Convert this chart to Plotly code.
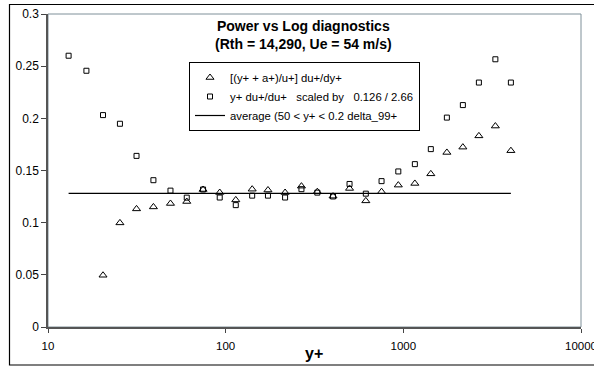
import plotly.graph_objects as go

# ---- data ----
yplus = [13.06, 16.45, 20.4, 25.4, 31.5, 39.2, 48.9, 60.4, 74.6, 92.6, 114, 141,
         173, 216, 267, 328, 402, 498, 615, 754, 937, 1161, 1428, 1758, 2163,
         2662, 3296, 4030]

# y+ du+/du+ scaled (squares)
scaled = [0.260, 0.2456, 0.2031, 0.1948, 0.164, 0.1407, 0.1307, 0.124, 0.1318,
          0.1241, 0.1168, 0.1259, 0.1259, 0.1241, 0.1321, 0.1288, 0.1251, 0.1371,
          0.1278, 0.1398, 0.1491, 0.1561, 0.1705, 0.2007, 0.2127, 0.2343, 0.2566,
          0.2343]

# [(y+ + a+)/u+] du+/dy+ (triangles), starts at third y+ value
tri_x = yplus[2:]
tri_y = [0.0496, 0.0998, 0.1132, 0.1151, 0.1184, 0.1203, 0.1318, 0.1289, 0.1218,
         0.1321, 0.1313, 0.1289, 0.135, 0.1297, 0.1254, 0.1328, 0.1209, 0.1297,
         0.136, 0.1376, 0.1468, 0.1673, 0.1724, 0.1832, 0.1926, 0.169]

avg_x = [yplus[0], yplus[-1]]
avg_y = [0.128, 0.128]

x_tickvals = [10, 100, 1000, 10000]
x_ticktext = ["10", "100", "1000", "10000"]

names = ["[(y+ + a+)/u+] du+/dy+",
         "y+ du+/du+   scaled by   0.126 / 2.66",
         "average (50 < y+ < 0.2 delta_99+"]

FONT = "Arial, Liberation Sans, sans-serif"

fig = go.Figure()
fig.add_trace(go.Scatter(
    x=tri_x, y=tri_y, mode="markers", name=names[0],
    marker=dict(symbol="triangle-up-open", size=7, color="black", line=dict(width=1, color="black"))))
fig.add_trace(go.Scatter(
    x=yplus, y=scaled, mode="markers", name=names[1],
    marker=dict(symbol="square-open", size=5, color="black", line=dict(width=1, color="black"))))
fig.add_trace(go.Scatter(
    x=avg_x, y=avg_y, mode="lines", name=names[2],
    line=dict(color="black", width=1.2)))

W, H = 594, 367
L, R, T, B = 48, 13, 14, 40
pw, ph = W - L - R, H - T - B

def px(xp):
    return (xp - L) / pw

def py(yp):
    return (H - B - yp) / ph

fig.update_layout(
    width=W, height=H,
    margin=dict(l=L, r=R, t=T, b=B, autoexpand=False),
    paper_bgcolor="white", plot_bgcolor="white",
    font=dict(family=FONT, size=11, color="black"),
    showlegend=True,
    legend=dict(
        x=px(189), y=py(62), xanchor="left", yanchor="top",
        bgcolor="white", bordercolor="black", borderwidth=1,
        font=dict(family=FONT, size=11.3, color="black"),
        tracegroupgap=0,
    ),
    xaxis=dict(
        type="log", range=[1, 4], automargin=False,
        tickvals=x_tickvals, ticktext=x_ticktext,
        ticks="outside", ticklen=4, tickcolor="#444", tickwidth=1,
        showline=True, linecolor="#555", linewidth=1.5,
        showgrid=False, zeroline=False,
        ticklabelstandoff=3, ticklabeloverflow="allow",
        tickfont=dict(family=FONT, size=11.5, color="black"),
    ),
    yaxis=dict(
        range=[0, 0.3], dtick=0.05, tick0=0, automargin=False,
        ticks="outside", ticklen=5, tickcolor="#444", tickwidth=1,
        showline=True, linecolor="#555", linewidth=1.5,
        showgrid=False, zeroline=False,
        tickfont=dict(family=FONT, size=12, color="black"),
    ),
    shapes=[
        # plot-area frame
        dict(type="rect", xref="paper", yref="paper", x0=0, x1=1, y0=0, y1=1,
             line=dict(color="#7f9099", width=1), layer="below"),
        # outer chart border
        dict(type="rect", xref="paper", yref="paper",
             x0=px(9.5), x1=px(600), y0=py(365), y1=py(4.5),
             line=dict(color="black", width=1.2)),
    ],
    annotations=[
        dict(text="<b>Power vs Log diagnostics<br>(Rth = 14,290, Ue = 54 m/s)</b>",
             xref="paper", yref="paper", x=px(303), y=py(35),
             xanchor="center", yanchor="middle", showarrow=False,
             font=dict(family=FONT, size=14, color="black")),
        dict(text="<b>y+</b>", xref="paper", yref="paper", x=px(314), y=py(354),
             xanchor="center", yanchor="middle", showarrow=False,
             font=dict(family=FONT, size=16, color="black")),
    ],
)

fig.write_html("out.html")
